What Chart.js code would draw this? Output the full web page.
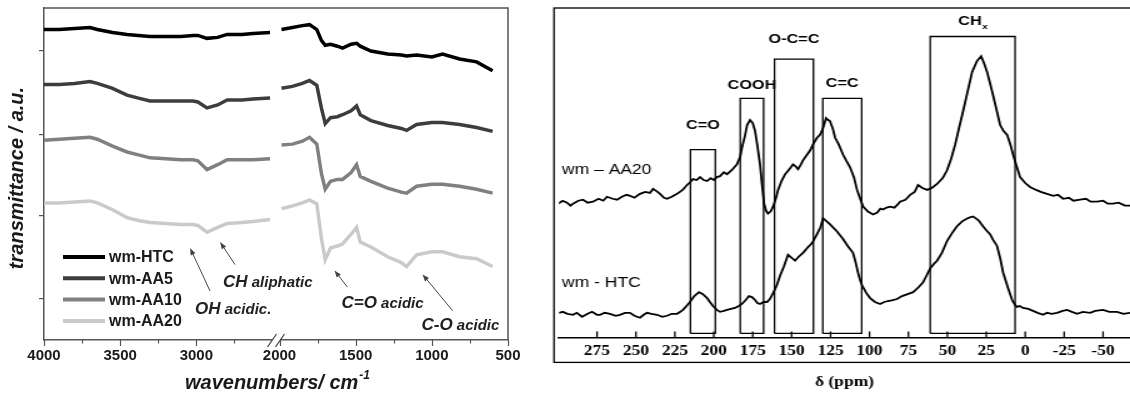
<!DOCTYPE html>
<html>
<head>
<meta charset="utf-8">
<script src="https://cdn.jsdelivr.net/npm/chart.js@4.4.1/dist/chart.umd.min.js"></script>
<style>
  html, body { margin: 0; padding: 0; background: #fff; }
  #wrap { position: relative; width: 1130px; height: 396px; overflow: hidden; }
  #ftir { position: absolute; left: 0; top: 0; }
  #nmr { position: absolute; left: 540px; top: 0; }
</style>
</head>
<body>
<div id="wrap">
  <canvas id="ftir" width="540" height="396"></canvas>
  <!-- la figure RMN d'origine est étirée horizontalement (x1.25) -->
  <canvas id="nmr" width="472" height="396" style="width:590px;height:396px"></canvas>
</div>
<script>
// ---------- FTIR : nombres d'onde (cm-1), axe coupé entre 2500 et 2000 ----------
const wnLeft  = [4000, 3900, 3800, 3698, 3650, 3550, 3455, 3380, 3304, 3200, 3100, 3022, 2990, 2930, 2860, 2798, 2700, 2628, 2516];
const wnRight = [1987, 1915, 1850, 1803, 1755, 1725, 1700, 1665, 1620, 1586, 1530, 1494, 1470, 1400, 1290, 1200, 1166, 1100, 1000, 930, 818, 706, 601];

const htcLeft   = [317, 317, 318, 319, 317, 314, 312, 311, 310, 310, 310, 311, 311, 308, 309, 312, 312, 313, 314];
const htcRight  = [317, 319, 321, 322, 317, 306, 301, 302, 300, 298, 302, 303, 300, 295, 292, 291, 290, 291, 289, 292, 287, 284, 275];
const aa5Left   = [261, 261, 262, 264, 262, 257, 250, 247, 244, 244, 244, 244, 243, 237, 240, 245, 245, 246, 247];
const aa5Right  = [257, 259, 262, 265, 260, 237, 221, 227, 228, 230, 234, 239, 230, 224, 219, 216, 214, 220, 222, 222, 220, 217, 213];
const aa10Left  = [204, 205, 206, 207, 205, 198, 192, 189, 186, 185, 184, 184, 183, 174, 179, 184, 184, 184, 185];
const aa10Right = [199, 200, 203, 207, 200, 170, 154, 162, 164, 164, 171, 179, 167, 162, 155, 151, 150, 157, 159, 159, 157, 154, 150];
const aa20Left  = [140, 140, 141, 142, 140, 133, 125, 122, 120, 119, 118, 118, 117, 110, 115, 119, 120, 121, 123];
const aa20Right = [134, 137, 140, 143, 139, 104, 82, 94, 96, 98, 108, 115, 100, 95, 85, 79, 75, 87, 90, 90, 85, 83, 75];

const ftirNames  = ['wm-HTC', 'wm-AA5', 'wm-AA10', 'wm-AA20'];
const ftirColors = ['#000000', '#3d3d3d', '#808080', '#cacaca'];
const ftirTicks = [4000, 3500, 3000, 2000, 1500, 1000, 500];
const ftirMinorTicks = [3750, 3250, 2750, 1750, 1250, 750];
const ftirYTicks = [42, 127, 210, 296];

// annotations : texte (majuscules + suffixe), position du texte, flèche (départ -> pointe)
const annotMain   = ['OH', 'CH', 'C=O', 'C-O'];
const annotSuffix = [' acidic.', ' aliphatic', ' acidic', ' acidic'];
const annotAt     = [[3009, 27], [2825, 54], [1593, 33], [1068, 10]];
const arrowFrom   = [[2910, 50], [2746, 77], [1554, 54], [864, 30]];
const arrowTo     = [[3041, 94], [2844, 100], [1639, 71], [1061, 67]];

// ---------- RMN 13C : déplacements (ppm) ----------
const shiftAA20 = [300, 297, 294.3, 292, 290.4, 287, 284, 281, 277.6, 274, 271, 268.6, 265, 262.1, 259, 256, 253.8, 251, 247.4, 244, 241, 239, 237, 234.5, 232, 230, 227, 223.6, 220, 217.2, 215, 213.3, 211, 208.8, 206.5, 204.3, 202, 200, 198, 196, 193.5, 191.5, 188.5, 185.1, 183, 181.9, 180, 178.6, 176.7, 175, 173.5, 172, 170.3, 169, 167.7, 166.5, 165.2, 163.5, 161.9, 160, 158.7, 156.5, 154.2, 152, 150.5, 149.1, 147.5, 145.9, 144, 142.7, 140.5, 138.2, 136, 133.7, 131.8, 130, 127.9, 126.5, 125.4, 123.5, 122.1, 120, 117, 115, 112.5, 110, 108, 106, 104.1, 101, 97.7, 95, 93, 91.3, 89, 86.8, 84, 82, 80.4, 77, 75, 73.9, 71, 68.8, 66, 63, 60, 56.6, 53, 50.2, 47.5, 45, 42.5, 39.9, 37, 34.1, 31, 28.3, 26.5, 24.5, 22.5, 20.6, 18.5, 16.1, 14, 11.6, 9.5, 7.8, 5.5, 3.3, 0, -3.1, -7, -10, -14, -18, -21, -24.3, -28, -31, -35.2, -39, -42, -46.2, -50, -53, -56.4, -60, -64, -67.3];
const nmrAA20   = [136, 139, 137, 134, 136, 139, 140, 137, 138, 141, 139, 143, 141, 140, 143, 145, 144, 142, 146, 148, 147, 151, 149, 146, 142, 141, 143, 146, 150, 155, 158, 161, 160, 163, 160, 159, 162, 160, 163, 164, 168, 166, 170, 176, 184, 193, 205, 216, 221, 218, 210, 195, 176, 155, 136, 129, 126, 128, 133, 142, 150, 159, 166, 170, 173, 176, 174, 171, 176, 180, 185, 190, 197, 203, 206, 212, 223, 221, 220, 212, 203, 197, 186, 180, 173, 163, 150, 141, 133, 128, 125, 127, 131, 130, 132, 133, 132, 135, 138, 140, 143, 145, 148, 155, 152, 150, 152, 156, 162, 170, 182, 196, 213, 230, 250, 270, 281, 286, 279, 270, 258, 246, 232, 216, 210, 206, 196, 186, 174, 163, 157, 153, 150, 148, 146, 144, 145, 141, 142, 139, 140, 141, 138, 138, 139, 136, 136, 137, 134, 134];
const shiftHTC = [299.5, 297, 294, 290.4, 288, 284.6, 281, 278.2, 275, 273.1, 270, 266.7, 263, 260.3, 257, 253.8, 251, 247.4, 245, 242.9, 240, 236.5, 233, 230, 227, 223.6, 221.5, 219.8, 217.5, 215.3, 212.5, 209.5, 207, 204.3, 202.5, 200.5, 198, 196, 193.5, 191.5, 189, 186.4, 184, 181.9, 179.5, 177.4, 175.5, 173.5, 172, 170.3, 168, 165.8, 164, 161.9, 159.5, 157.4, 155, 152.3, 150, 147.8, 145.5, 142.7, 140, 136.9, 134, 131.5, 129.8, 127.5, 125.3, 121, 117, 114, 110.6, 109, 107.4, 106, 104.8, 102, 99.6, 96.5, 93.2, 90.5, 88.1, 85, 82.3, 79.1, 75.5, 72, 68.5, 65.6, 63, 61.1, 58.5, 56.6, 53.5, 50.2, 47, 43.8, 40.5, 37.3, 35.5, 33.5, 30, 27.1, 25, 22.6, 20.5, 18.1, 16, 14.2, 11, 8.4, 6.5, 5.2, 3.5, 1.4, -2, -5, -8, -11.5, -14, -17, -20.5, -24, -26.9, -30, -33.3, -37, -41.7, -45, -50, -54, -59, -63, -67.3];
const nmrHTC   = [25, 26, 24, 23, 25, 21, 24, 26, 23, 23, 25, 24, 22, 23, 25, 25, 22, 20, 23, 25, 24, 23, 21, 22, 24, 24, 26, 28, 32, 36, 42, 46, 44, 40, 36, 32, 28, 26, 27, 28, 29, 30, 32, 34, 38, 42, 41, 38, 35, 34, 36, 36, 39, 45, 53, 63, 72, 84, 81, 78, 82, 86, 91, 96, 104, 112, 121, 118, 115, 108, 100, 93, 86, 77, 66, 58, 53, 45, 40, 36, 34, 36, 37, 38, 39, 42, 44, 46, 51, 56, 64, 70, 75, 78, 86, 98, 106, 113, 118, 121, 122, 123, 119, 113, 109, 105, 99, 93, 80, 66, 50, 38, 33, 31, 32, 30, 29, 27, 25, 23, 25, 24, 25, 27, 28, 26, 24, 26, 25, 27, 28, 26, 26, 24, 25];
const nmrTicks = [275, 250, 225, 200, 175, 150, 125, 100, 75, 50, 25, 0, -25, -50];

// zones attribuées (rectangles)
const boxLabels = ['C=O', 'COOH', 'O-C=C', 'C=C', 'CH'];
const boxSub    = ['', '', '', '', 'x'];
const boxFrom   = [215, 183, 161, 130, 61];
const boxTo     = [199, 168, 136, 105, 6.5];
const boxTop    = [191, 243, 283, 243, 306];
const boxBase   = 4;
const boxLabelLift = [24, 13, 20, 15, 15];

const seriesLabels = ['wm \u2013 AA20', 'wm - HTC'];
const seriesLabelAt = [[297.5, 170], [297.5, 55]];

const SANS = '"Liberation Sans", Arial, sans-serif';
const SERIF = '"Liberation Serif", "Times New Roman", serif';

// ---------- échelle linéaire coupée ----------
const wnStart = 4000, wnEnd = 500, breakHigh = 2500, breakLow = 2000, breakGap = 46;
function toAxis(v) {
  return v >= breakHigh ? wnStart - v : (wnStart - breakHigh) + breakGap + (breakLow - v);
}
const axisSpan = toAxis(wnEnd);

class BrokenLinearScale extends Chart.LinearScale {
  static id = 'brokenLinear';
  static defaults = {};
  getPixelForValue(value) {
    if (value === null || value === undefined) return NaN;
    return this.getPixelForDecimal(toAxis(value) / axisSpan);
  }
  getValueForPixel(pixel) {
    const u = this.getDecimalForPixel(pixel) * axisSpan;
    const leftSpan = wnStart - breakHigh;
    return u <= leftSpan ? wnStart - u : breakLow - (u - leftSpan - breakGap);
  }
}
Chart.register(BrokenLinearScale);

function joinSegments(left, right) {
  const pts = wnLeft.map((w, i) => ({x: w, y: left[i]}));
  pts.push({x: (breakHigh + breakLow) / 2, y: null});
  return pts.concat(wnRight.map((w, i) => ({x: w, y: right[i]})));
}

const ftirSeries = [[htcLeft, htcRight], [aa5Left, aa5Right], [aa10Left, aa10Right], [aa20Left, aa20Right]];

function drawArrow(ctx, x1, y1, x2, y2) {
  const ang = Math.atan2(y2 - y1, x2 - x1);
  ctx.beginPath();
  ctx.moveTo(x1, y1);
  ctx.lineTo(x2 - 5 * Math.cos(ang), y2 - 5 * Math.sin(ang));
  ctx.stroke();
  ctx.beginPath();
  ctx.moveTo(x2, y2);
  ctx.lineTo(x2 - 7 * Math.cos(ang) + 2.6 * Math.sin(ang), y2 - 7 * Math.sin(ang) - 2.6 * Math.cos(ang));
  ctx.lineTo(x2 - 7 * Math.cos(ang) - 2.6 * Math.sin(ang), y2 - 7 * Math.sin(ang) + 2.6 * Math.cos(ang));
  ctx.closePath();
  ctx.fill();
}

const ftirDecor = {
  id: 'ftirDecor',
  afterDraw(chart) {
    const {ctx, chartArea: a, scales: {x, y}} = chart;
    ctx.save();
    // cadre haut / droite
    ctx.strokeStyle = '#555';
    ctx.lineWidth = 1.5;
    ctx.beginPath();
    ctx.moveTo(a.left, a.top);
    ctx.lineTo(a.right, a.top);
    ctx.lineTo(a.right, a.bottom);
    ctx.stroke();

    // graduations de l'axe x
    ctx.lineWidth = 1.2;
    ftirTicks.forEach(v => {
      const px = Math.round(x.getPixelForValue(v)) + 0.5;
      ctx.beginPath(); ctx.moveTo(px, a.bottom); ctx.lineTo(px, a.bottom + 6); ctx.stroke();
    });
    ftirMinorTicks.forEach(v => {
      const px = Math.round(x.getPixelForValue(v)) + 0.5;
      ctx.beginPath(); ctx.moveTo(px, a.bottom); ctx.lineTo(px, a.bottom + 3.5); ctx.stroke();
    });

    // coupure //
    const mid = (x.getPixelForValue(breakHigh) + x.getPixelForValue(breakLow)) / 2;
    ctx.fillStyle = '#fff';
    ctx.fillRect(mid - 4, a.bottom - 2, 8, 4);
    ctx.strokeStyle = '#444';
    ctx.lineWidth = 1.3;
    [-4, 4].forEach(d => {
      ctx.beginPath();
      ctx.moveTo(mid + d - 4.5, a.bottom + 7);
      ctx.lineTo(mid + d + 4.5, a.bottom - 6);
      ctx.stroke();
    });

    // titres des axes
    ctx.fillStyle = '#1a1a1a';
    ctx.font = 'italic bold 20px ' + SANS;
    ctx.textBaseline = 'alphabetic';
    const main = 'wavenumbers/ cm';
    const w1 = ctx.measureText(main).width;
    ctx.font = 'italic bold 12px ' + SANS;
    const w2 = ctx.measureText('-1').width;
    const cx = (a.left + a.right) / 2 + 1;
    const x0 = cx - (w1 + w2) / 2;
    ctx.font = 'italic bold 20px ' + SANS;
    ctx.textAlign = 'left';
    ctx.fillText(main, x0, 389);
    ctx.font = 'italic bold 12px ' + SANS;
    ctx.fillText('-1', x0 + w1 + 1, 379);

    ctx.save();
    ctx.translate(23, (a.top + a.bottom) / 2 + 4);
    ctx.rotate(-Math.PI / 2);
    ctx.font = 'italic bold 20px ' + SANS;
    ctx.textAlign = 'center';
    ctx.fillText('transmittance / a.u.', 0, 0);
    ctx.restore();

    // légende
    chart.data.datasets.forEach((ds, i) => {
      const ly = a.bottom - 83 + i * 21.3;
      ctx.strokeStyle = ds.borderColor;
      ctx.lineWidth = 4;
      ctx.beginPath(); ctx.moveTo(a.left + 19, ly); ctx.lineTo(a.left + 61, ly); ctx.stroke();
      ctx.fillStyle = '#1a1a1a';
      ctx.font = 'bold 16px ' + SANS;
      ctx.textAlign = 'left';
      ctx.textBaseline = 'middle';
      ctx.fillText(ds.label, a.left + 65, ly + 1);
    });

    // annotations et flèches
    ctx.textBaseline = 'alphabetic';
    ctx.strokeStyle = '#444';
    ctx.lineWidth = 1;
    annotMain.forEach((t, i) => {
      const tx = x.getPixelForValue(annotAt[i][0]);
      const ty = y.getPixelForValue(annotAt[i][1]);
      ctx.fillStyle = '#222';
      ctx.font = 'italic bold 17px ' + SANS;
      ctx.fillText(t, tx, ty);
      const tw = ctx.measureText(t).width;
      ctx.font = 'italic bold 15px ' + SANS;
      ctx.fillText(annotSuffix[i], tx + tw, ty);
      ctx.fillStyle = '#444';
      drawArrow(ctx,
        x.getPixelForValue(arrowFrom[i][0]), y.getPixelForValue(arrowFrom[i][1]),
        x.getPixelForValue(arrowTo[i][0]), y.getPixelForValue(arrowTo[i][1]));
    });
    ctx.restore();
  }
};

new Chart(document.getElementById('ftir'), {
  type: 'line',
  data: {
    datasets: ftirSeries.map((s, i) => ({
      label: ftirNames[i],
      data: joinSegments(s[0], s[1]),
      borderColor: ftirColors[i],
      borderWidth: 3.5,
      pointRadius: 0,
      tension: 0,
      spanGaps: false
    }))
  },
  options: {
    responsive: false,
    animation: false,
    layout: {padding: {left: 39, right: 32, top: 8, bottom: 24}},
    plugins: {legend: {display: false}, tooltip: {enabled: false}},
    scales: {
      x: {
        type: 'brokenLinear',
        min: wnEnd,
        max: wnStart,
        afterBuildTicks: s => { s.ticks = ftirTicks.map(v => ({value: v})); },
        grid: {display: false, drawTicks: false},
        border: {display: true, color: '#555', width: 1.5},
        ticks: {
          font: {family: SANS, weight: 'bold', size: 15},
          color: '#1a1a1a',
          padding: 7,
          maxRotation: 0,
          autoSkip: false,
          callback: v => String(v)
        }
      },
      y: {
        min: 0,
        max: 339,
        afterBuildTicks: s => { s.ticks = ftirYTicks.map(v => ({value: v})); },
        grid: {display: true, drawOnChartArea: false, drawTicks: true, tickLength: 5, color: '#555', lineWidth: 1.2},
        border: {display: true, color: '#555', width: 1.5},
        ticks: {display: false}
      }
    }
  },
  plugins: [ftirDecor]
});

// ---------- RMN ----------
const nmrDecor = {
  id: 'nmrDecor',
  afterDraw(chart) {
    const {ctx, chartArea: a, scales: {x, y}} = chart;
    ctx.save();
    ctx.strokeStyle = '#000';
    ctx.lineWidth = 1.3;
    ctx.strokeRect(a.left - 4, a.top, chart.width + 20, a.bottom - a.top + 25);

    // graduations vers l'intérieur
    ctx.lineWidth = 1.3;
    nmrTicks.forEach(v => {
      const px = x.getPixelForValue(v);
      ctx.beginPath(); ctx.moveTo(px, a.bottom); ctx.lineTo(px, a.bottom - 6); ctx.stroke();
    });

    // étiquettes des zones
    ctx.fillStyle = '#000';
    ctx.textBaseline = 'middle';
    boxLabels.forEach((t, i) => {
      const cx = (x.getPixelForValue(boxFrom[i]) + x.getPixelForValue(boxTo[i])) / 2;
      const cy = y.getPixelForValue(boxTop[i]) - boxLabelLift[i];
      ctx.font = 'bold 13px ' + SANS;
      const tw = ctx.measureText(t).width;
      ctx.font = 'bold 8px ' + SANS;
      const sw = boxSub[i] ? ctx.measureText(boxSub[i]).width : 0;
      const x0 = cx - (tw + sw) / 2;
      ctx.font = 'bold 13px ' + SANS;
      ctx.textAlign = 'left';
      ctx.fillText(t, x0, cy);
      if (boxSub[i]) {
        ctx.font = 'bold 8px ' + SANS;
        ctx.fillText(boxSub[i], x0 + tw + 0.5, cy + 5);
      }
    });

    // noms des échantillons
    ctx.font = '14px ' + SANS;
    ctx.textAlign = 'left';
    seriesLabels.forEach((t, i) => {
      ctx.fillText(t, x.getPixelForValue(seriesLabelAt[i][0]), y.getPixelForValue(seriesLabelAt[i][1]));
    });
    ctx.restore();
  }
};

const boxDatasets = boxLabels.map((t, i) => ({
  label: t + boxSub[i],
  data: [
    {x: boxFrom[i], y: boxBase}, {x: boxFrom[i], y: boxTop[i]},
    {x: boxTo[i], y: boxTop[i]}, {x: boxTo[i], y: boxBase}, {x: boxFrom[i], y: boxBase}
  ],
  borderColor: '#000',
  borderWidth: 1.3,
  pointRadius: 0,
  tension: 0
}));

new Chart(document.getElementById('nmr'), {
  type: 'line',
  data: {
    datasets: [
      {
        label: 'wm - AA20',
        data: shiftAA20.map((s, i) => ({x: s, y: nmrAA20[i]})),
        borderColor: '#000', borderWidth: 1.8, pointRadius: 0, tension: 0
      },
      {
        label: 'wm - HTC',
        data: shiftHTC.map((s, i) => ({x: s, y: nmrHTC[i]})),
        borderColor: '#000', borderWidth: 1.8, pointRadius: 0, tension: 0
      }
    ].concat(boxDatasets)
  },
  options: {
    responsive: false,
    animation: false,
    layout: {padding: {left: 15.2, right: 0, top: 8, bottom: 0}},
    plugins: {legend: {display: false}, tooltip: {enabled: false}},
    scales: {
      x: {
        type: 'linear',
        reverse: true,
        min: -67.3,
        max: 299.4,
        afterBuildTicks: s => { s.ticks = nmrTicks.map(v => ({value: v})); },
        grid: {display: false, drawTicks: false},
        border: {display: true, color: '#000', width: 1.5},
        ticks: {
          font: {family: SERIF, weight: 'bold', size: 14},
          color: '#000',
          padding: 5.6,
          maxRotation: 0,
          autoSkip: false,
          callback: v => String(v)
        },
        title: {
          display: true,
          text: '\u03b4 (ppm)',
          font: {family: SERIF, weight: 'bold', size: 14},
          color: '#000',
          padding: {top: 9, bottom: 4.8}
        }
      },
      y: {display: false, min: 0, max: 335}
    }
  },
  plugins: [nmrDecor]
});
</script>
</body>
</html>
